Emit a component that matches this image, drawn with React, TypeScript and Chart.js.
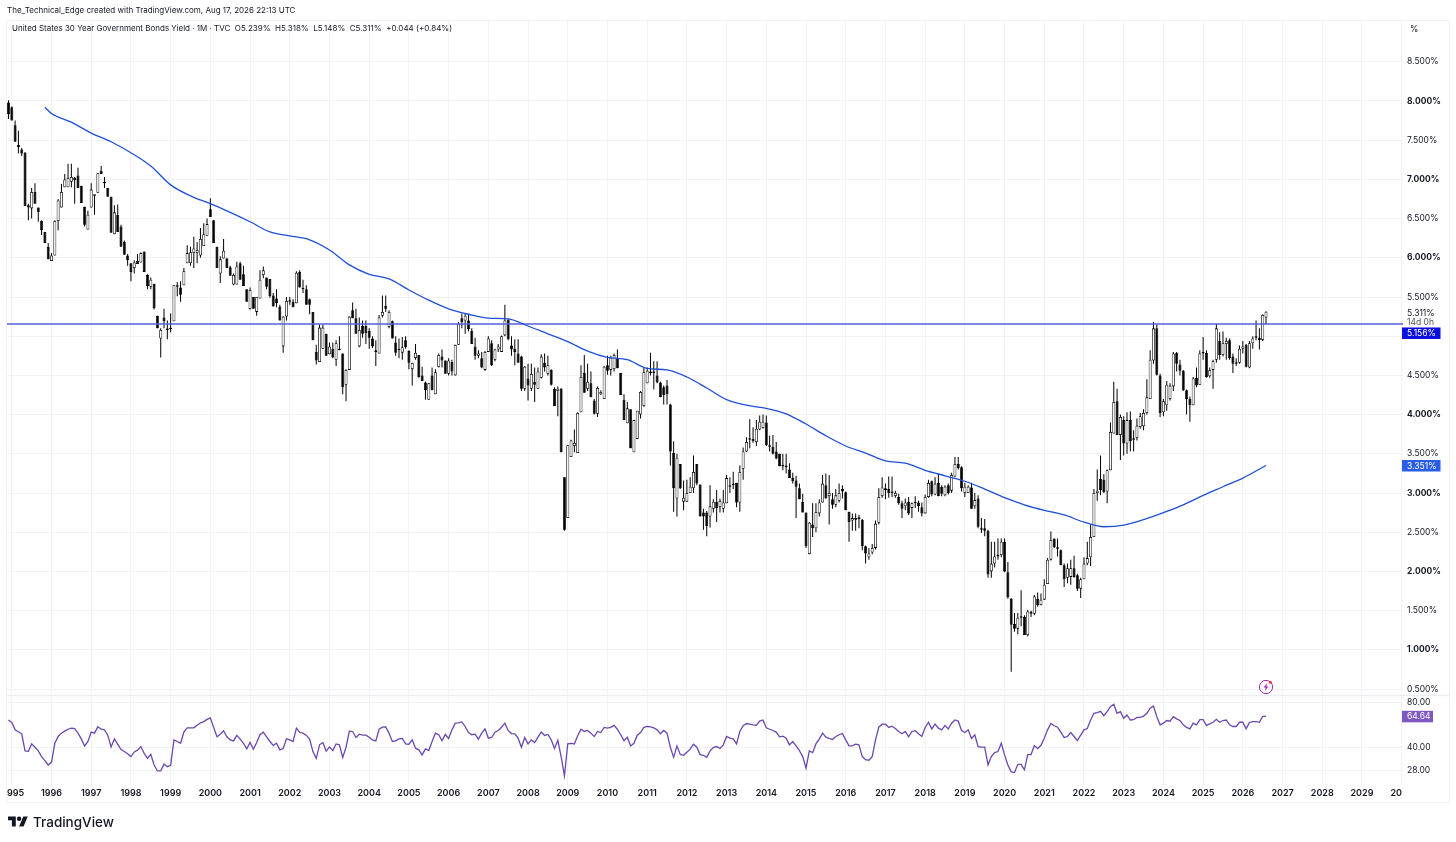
import React, { useEffect, useRef } from "react";
import { Chart, registerables } from "chart.js";

Chart.register(...registerables);

// Months are counted from January 1995 (0). First candle is December 1994.
const firstMonth = -1;

const opens = [7.98,
  7.92,7.69,7.44,7.38,7.34,6.67,6.63,6.84,6.64,6.47,6.33,6.14,
  5.96,6.03,6.47,6.64,6.90,6.90,6.97,7.02,7.05,6.92,6.65,6.36,
  6.64,6.79,6.83,7.11,6.97,6.89,6.78,6.30,6.55,6.40,6.20,6.03,
  5.93,5.87,5.96,5.94,6.08,5.78,5.63,5.67,5.26,4.97,5.24,5.08,
  5.09,5.19,5.65,5.62,5.65,5.93,5.93,6.06,6.06,6.03,6.15,6.28,
  6.62,6.48,6.14,5.80,5.99,5.99,5.88,5.66,5.66,5.93,5.79,5.60,
  5.35,5.50,5.31,5.48,5.78,5.75,5.73,5.52,5.48,5.38,4.87,5.25,
  5.44,5.44,5.42,5.82,5.61,5.60,5.47,5.31,4.80,4.67,4.84,5.03,
  4.77,4.84,4.70,4.82,4.78,4.38,4.57,5.33,5.23,4.87,5.13,5.13,
  5.07,4.97,4.82,4.78,5.26,5.39,5.12,5.19,4.92,4.84,4.79,4.95,
  4.81,4.58,4.72,4.76,4.50,4.41,4.19,4.50,4.26,4.61,4.74,4.69,
  4.52,4.67,4.50,4.89,5.23,5.20,5.20,5.07,4.87,4.75,4.72,4.57,
  4.80,4.91,4.70,4.83,4.80,5.01,5.21,4.88,4.84,4.78,4.74,4.33,
  4.46,4.33,4.42,4.33,4.47,4.66,4.52,4.57,4.33,4.30,4.33,3.20,
  2.68,3.46,3.60,3.51,4.03,4.53,4.33,4.40,4.18,4.01,4.26,4.20,
  4.63,4.57,4.58,4.72,4.53,4.19,3.89,4.07,3.52,3.69,4.00,4.11,
  4.40,4.55,4.53,4.50,4.41,4.35,4.37,4.13,3.51,2.93,3.37,2.89,
  2.89,3.00,3.06,3.37,3.11,2.75,2.75,2.70,2.80,2.89,2.82,2.80,
  2.87,3.10,3.10,3.13,2.88,3.31,3.53,3.70,3.69,3.65,3.81,3.83,
  3.90,3.61,3.59,3.53,3.50,3.36,3.35,3.30,3.19,3.16,3.06,2.89,
  2.75,2.22,2.60,2.55,2.74,2.88,3.10,2.96,2.92,2.85,2.90,3.05,
  3.01,2.76,2.65,2.66,2.67,2.66,2.32,2.18,2.24,2.30,2.62,2.96,
  3.06,3.05,3.00,2.96,2.95,2.87,2.83,2.89,2.81,2.87,2.88,2.82,
  2.74,2.95,3.15,2.98,3.13,3.08,2.97,3.10,3.03,3.21,3.37,3.33,
  3.00,3.00,3.07,2.83,2.93,2.55,2.55,2.52,2.00,2.10,2.19,2.21,
  2.38,1.99,1.65,1.33,1.27,1.41,1.42,1.19,1.49,1.46,1.65,1.57,
  1.64,1.84,2.15,2.42,2.30,2.27,2.08,1.92,1.93,2.04,1.95,1.78,
  1.90,2.10,2.18,2.44,3.00,3.18,3.17,3.02,3.29,3.76,4.17,3.74,
  3.93,3.63,3.93,3.68,3.70,3.84,3.85,4.02,4.20,4.69,5.10,4.50,
  4.03,4.12,4.20,4.36,4.79,4.64,4.56,4.31,4.20,4.12,4.47,4.38,
  4.78,4.79,4.49,4.57,4.70,4.94,4.76,4.90,4.95,4.74,4.65,4.66,
  4.84,4.89,4.60,4.91,4.98,4.98,4.95,5.239];

const highs = [8.01,
  7.93,7.75,7.62,7.40,7.35,6.69,6.89,6.95,6.64,6.48,6.33,6.19,
  6.06,6.48,6.75,6.94,7.07,7.20,7.20,7.03,7.15,6.92,6.65,6.60,
  6.95,6.80,7.08,7.17,7.03,6.89,6.78,6.67,6.68,6.42,6.22,6.05,
  5.93,5.97,6.05,6.07,6.08,5.79,5.75,5.67,5.26,5.10,5.35,5.20,
  5.29,5.65,5.69,5.70,5.87,6.16,6.14,6.27,6.20,6.38,6.44,6.50,
  6.76,6.48,6.14,6.02,6.24,6.00,5.90,5.80,5.95,5.95,5.90,5.60,
  5.62,5.50,5.50,5.84,5.89,5.75,5.73,5.55,5.60,5.40,5.25,5.50,
  5.50,5.47,5.83,5.84,5.72,5.65,5.48,5.31,4.89,5.15,5.15,5.03,
  4.92,4.92,4.95,5.00,4.78,4.58,5.25,5.43,5.35,5.24,5.20,5.20,
  5.10,5.00,4.95,5.27,5.52,5.52,5.33,5.20,5.00,4.97,4.99,5.00,
  4.82,4.66,4.90,4.76,4.61,4.42,4.40,4.60,4.58,4.78,4.83,4.69,
  4.72,4.70,4.89,5.18,5.29,5.29,5.28,5.10,4.98,4.82,4.80,4.81,
  5.00,4.95,4.84,4.90,5.01,5.40,5.22,5.00,4.96,4.96,4.75,4.62,
  4.65,4.65,4.60,4.60,4.77,4.78,4.75,4.58,4.35,4.36,4.34,3.20,
  3.61,3.68,3.81,4.03,4.63,4.76,4.65,4.55,4.20,4.36,4.31,4.62,
  4.75,4.75,4.78,4.83,4.53,4.26,4.16,4.07,3.93,4.05,4.30,4.60,
  4.60,4.79,4.68,4.68,4.42,4.37,4.44,4.14,3.66,3.50,3.37,3.16,
  3.17,3.20,3.48,3.37,3.11,2.80,2.77,3.10,2.92,3.04,2.93,3.04,
  3.23,3.20,3.27,3.13,3.35,3.58,3.71,3.94,3.84,3.93,3.99,4.00,
  3.99,3.73,3.74,3.65,3.50,3.50,3.50,3.38,3.26,3.22,3.12,2.99,
  2.75,2.63,2.87,2.87,2.92,3.23,3.25,3.23,3.00,3.05,3.12,3.10,
  3.02,2.76,2.74,2.74,2.72,2.67,2.33,2.30,2.35,2.65,3.06,3.20,
  3.12,3.21,3.21,3.03,2.99,2.90,2.93,2.95,2.88,2.96,2.90,2.88,
  2.98,3.17,3.16,3.20,3.25,3.10,3.10,3.12,3.26,3.46,3.46,3.34,
  3.13,3.10,3.13,3.00,2.97,2.68,2.67,2.53,2.38,2.38,2.42,2.42,
  2.42,2.12,1.66,1.47,1.47,1.76,1.44,1.51,1.50,1.70,1.73,1.72,
  1.90,2.17,2.51,2.42,2.42,2.28,2.10,2.10,2.15,2.20,1.97,1.92,
  2.18,2.38,2.60,3.05,3.30,3.48,3.24,3.30,3.90,4.42,4.33,4.00,
  3.98,4.03,4.04,3.80,3.95,4.02,4.07,4.45,4.82,5.18,5.15,4.52,
  4.20,4.43,4.40,4.80,4.80,4.70,4.57,4.32,4.23,4.48,4.60,4.82,
  4.99,4.82,4.60,4.70,5.16,5.05,5.06,4.98,4.97,4.78,4.72,4.88,
  4.94,4.90,4.94,5.00,5.20,5.10,5.28,5.318];

const lows = [7.77,
  7.75,7.48,7.33,7.30,6.66,6.48,6.50,6.69,6.46,6.29,6.19,5.98,
  5.96,6.03,6.35,6.64,6.90,6.90,6.90,6.69,6.89,6.70,6.40,6.36,
  6.64,6.55,6.83,7.07,6.89,6.78,6.32,6.30,6.33,6.14,6.04,5.90,
  5.70,5.80,5.92,5.94,5.82,5.60,5.60,5.34,5.10,4.73,5.10,4.96,
  5.05,5.19,5.51,5.44,5.65,5.93,5.90,5.87,5.93,6.00,6.15,6.28,
  6.52,6.19,5.87,5.68,5.99,5.87,5.77,5.65,5.66,5.72,5.64,5.44,
  5.34,5.35,5.26,5.48,5.74,5.60,5.49,5.38,5.37,5.20,4.79,5.20,
  5.40,5.37,5.42,5.62,5.55,5.40,5.28,4.95,4.64,4.67,4.84,4.75,
  4.77,4.72,4.62,4.82,4.26,4.17,4.57,5.23,5.03,4.86,4.98,4.90,
  4.84,4.85,4.62,4.78,5.24,5.31,5.10,4.97,4.75,4.72,4.70,4.84,
  4.58,4.37,4.70,4.47,4.43,4.19,4.19,4.31,4.26,4.60,4.60,4.52,
  4.50,4.50,4.50,4.89,5.10,5.03,5.06,4.90,4.70,4.72,4.59,4.56,
  4.80,4.62,4.68,4.80,4.80,5.00,4.95,4.75,4.63,4.66,4.30,4.30,
  4.18,4.30,4.16,4.33,4.46,4.55,4.50,4.37,4.11,3.98,3.52,2.52,
  2.68,3.46,3.52,3.51,4.03,4.28,4.30,4.22,4.00,3.97,4.25,4.20,
  4.51,4.50,4.55,4.59,4.25,3.93,3.89,3.57,3.52,3.69,3.95,4.10,
  4.40,4.50,4.32,4.40,4.22,4.13,4.13,3.35,2.76,2.70,3.05,2.78,
  2.89,3.00,3.00,3.10,2.70,2.53,2.45,2.56,2.75,2.63,2.75,2.75,
  2.87,3.00,3.05,2.82,2.76,3.17,3.52,3.57,3.64,3.60,3.80,3.82,
  3.60,3.53,3.49,3.43,3.34,3.29,3.25,3.19,3.12,2.68,2.92,2.75,
  2.30,2.22,2.44,2.50,2.70,2.88,2.93,2.60,2.80,2.82,2.88,2.93,
  2.78,2.38,2.52,2.52,2.55,2.27,2.10,2.15,2.22,2.28,2.60,2.94,
  2.92,2.94,2.95,2.94,2.85,2.68,2.78,2.72,2.68,2.81,2.76,2.70,
  2.74,2.94,2.96,2.97,2.96,2.96,2.96,2.98,3.00,3.20,3.30,3.02,
  2.95,3.00,2.80,2.80,2.55,2.49,2.45,1.92,1.92,2.05,2.15,2.18,
  1.99,1.65,0.72,1.23,1.20,1.30,1.19,1.17,1.42,1.44,1.55,1.57,
  1.64,1.84,2.14,2.30,2.19,2.08,1.80,1.85,1.83,1.92,1.75,1.66,
  1.90,2.08,2.07,2.44,2.90,2.97,3.00,2.87,3.29,3.76,3.74,3.42,
  3.48,3.50,3.53,3.53,3.67,3.82,3.80,4.00,4.20,4.65,4.50,3.97,
  3.98,4.05,4.18,4.30,4.55,4.50,4.30,4.00,3.91,4.12,4.35,4.38,
  4.70,4.47,4.47,4.33,4.66,4.70,4.74,4.70,4.70,4.53,4.62,4.65,
  4.78,4.60,4.59,4.84,4.95,4.83,4.94,5.148];

const closes = [7.83,
  7.75,7.48,7.41,7.33,6.66,6.64,6.84,6.69,6.58,6.35,6.19,5.98,
  6.03,6.47,6.73,6.84,7.00,7.02,7.03,6.99,6.89,6.70,6.42,6.55,
  6.87,6.80,7.08,7.07,6.95,6.78,6.32,6.58,6.33,6.14,6.04,5.97,
  5.82,5.94,5.92,6.06,5.82,5.64,5.72,5.36,5.10,5.08,5.19,5.09,
  5.10,5.65,5.63,5.53,5.83,6.06,6.07,6.12,6.10,6.24,6.30,6.43,
  6.52,6.19,5.87,5.98,6.09,5.87,5.77,5.78,5.89,5.72,5.64,5.44,
  5.59,5.35,5.50,5.72,5.84,5.63,5.51,5.38,5.42,5.20,5.25,5.45,
  5.46,5.37,5.81,5.62,5.60,5.40,5.40,4.95,4.69,5.11,5.11,4.75,
  4.87,4.73,4.91,4.83,4.35,4.57,5.25,5.23,5.03,5.08,5.03,5.04,
  4.98,4.87,4.80,5.24,5.31,5.35,5.31,4.97,4.79,4.82,4.86,4.86,
  4.66,4.66,4.79,4.48,4.43,4.31,4.40,4.31,4.54,4.76,4.69,4.52,
  4.69,4.55,4.89,5.16,5.18,5.26,5.09,4.90,4.75,4.78,4.60,4.80,
  4.97,4.63,4.83,4.87,5.00,5.20,4.96,4.83,4.80,4.66,4.33,4.61,
  4.37,4.52,4.38,4.55,4.74,4.60,4.63,4.38,4.11,4.33,3.52,2.53,
  3.61,3.67,3.64,4.02,4.48,4.28,4.42,4.22,4.01,4.34,4.29,4.61,
  4.56,4.73,4.76,4.59,4.25,3.93,4.08,3.57,3.93,4.05,4.29,4.54,
  4.56,4.53,4.54,4.41,4.22,4.25,4.26,3.53,3.06,3.45,3.06,2.94,
  3.00,3.08,3.27,3.12,2.70,2.70,2.58,2.83,2.89,2.81,2.90,2.88,
  3.19,3.08,3.12,2.88,3.27,3.53,3.65,3.68,3.66,3.82,3.91,3.91,
  3.61,3.59,3.50,3.44,3.34,3.34,3.33,3.19,3.15,3.08,2.92,2.75,
  2.32,2.62,2.55,2.76,2.88,3.12,2.93,3.00,2.85,2.97,3.00,3.02,
  2.78,2.63,2.68,2.68,2.69,2.32,2.23,2.23,2.30,2.61,2.95,3.07,
  3.04,3.00,3.02,3.00,2.87,2.80,2.88,2.74,2.87,2.88,2.83,2.74,
  2.95,3.13,2.98,3.12,2.96,2.99,3.08,3.00,3.23,3.37,3.32,3.06,
  3.08,3.08,2.80,2.91,2.57,2.55,2.52,1.96,2.10,2.19,2.20,2.38,
  2.00,1.67,1.32,1.27,1.41,1.42,1.19,1.49,1.46,1.68,1.57,1.64,
  1.83,2.15,2.40,2.31,2.29,2.08,1.90,2.04,2.04,1.93,1.78,1.90,
  2.10,2.17,2.44,3.00,3.03,3.04,3.01,3.29,3.78,4.16,3.74,3.97,
  3.63,3.93,3.66,3.69,3.86,3.98,4.02,4.22,4.70,5.10,4.51,4.02,
  4.17,4.38,4.37,4.78,4.65,4.56,4.31,4.20,4.12,4.46,4.37,4.78,
  4.79,4.48,4.57,4.68,5.10,4.76,4.91,4.94,4.72,4.65,4.66,4.84,
  4.87,4.61,4.91,4.97,4.99,4.95,5.27,5.311];

const maMonths = [10,12,18,24,30,36,42,48,54,60,66,72,78,84,90,96,102,108,114,120,126,132,138,144,150,156,162,168,174,180,186,192,198,204,210,216,222,228,234,240,246,252,258,264,270,276,282,288,294,300,306,312,318,324,330,336,342,348,354,360,366,372,379];
const maValues = [7.92,7.84,7.73,7.59,7.48,7.34,7.17,6.93,6.79,6.69,6.58,6.46,6.33,6.28,6.23,6.10,5.91,5.79,5.73,5.59,5.46,5.35,5.28,5.23,5.22,5.13,5.03,4.93,4.81,4.73,4.70,4.59,4.57,4.48,4.34,4.19,4.12,4.08,4.01,3.88,3.73,3.60,3.51,3.41,3.38,3.29,3.22,3.15,3.05,2.94,2.85,2.78,2.72,2.63,2.57,2.59,2.66,2.75,2.85,2.97,3.08,3.19,3.351];

const rsiValues = [61.1,
  58.8,52.5,51,49.4,38,37.8,42.3,40.2,38,34.8,32.7,30.6,
  32,42.7,47.4,49.9,51.5,53,53.9,53.6,49.9,45.7,41,43.9,
  50.7,49.9,55,53,52.5,48.4,40.4,45.7,42.1,38.8,37.6,36.4,
  34.8,37.4,38.4,40.6,36.6,33.9,36,30.6,27.9,27.9,31,29.8,
  30.4,45,43.9,42.7,50.7,54.2,54.2,54.2,56.4,58.5,59.6,61.7,
  63.1,54.5,47.2,49.1,51.8,47.2,45,44.3,48.2,45.5,42.7,39.2,
  43.2,39,43.2,48.7,50.7,47.2,43.9,41.4,42.7,38.6,39.4,45.7,
  45,43.9,53.9,50.4,49.9,48.2,45.5,37.6,33.9,41.7,43.2,37.8,
  40.4,38.2,42.3,41.7,34.4,40.2,51.5,51.2,46.7,49.1,48.4,48.4,
  46.9,45,44.3,53,54.7,55,49.9,43.9,44.3,45.7,46,42.3,
  42.1,45,39.6,38.6,35.7,39.2,38.2,43.9,49.9,48.7,44.5,48.9,
  46,52.5,58.2,58.5,59.3,55.3,50.4,48.7,49.1,45.5,49.9,53.3,
  46.2,46.7,50.7,52,54.7,58.2,52,49.6,49.4,46.2,40.2,46.7,
  42.3,45,43.2,46.9,50.7,48.2,48.9,45,39.4,44.7,34.8,25.9,
  42.3,42.7,42.3,47.9,53,51.2,52,49.9,47.4,51.2,50.4,54.5,
  53.9,54.5,56.2,53,48.7,44.5,46.9,41,42.7,48.4,50.4,54.5,
  55.3,55,54.2,52.5,49.4,52,49.9,40.2,34.4,41,36,35.5,
  37.2,39,42.1,40.2,35.9,35.5,34.4,38,40,40.6,39.4,41.7,
  47.4,46.2,45.7,42.3,51.2,55.9,57.9,57.3,56.7,56.4,60.1,61.1,
  54.2,53,52,50.7,47.2,47.7,46.2,41.7,43.9,41,38.2,34.8,
  29.1,38,37,42.3,45.5,49.9,46.9,46,45.2,47.4,48.7,49.6,
  45,41,41,42.1,41.7,34.8,33.2,32.9,34.8,45,54.7,57.3,
  57.3,54.5,55.6,53.6,51.2,49.4,51.2,47.2,51.2,51.8,49.4,47.4,
  54.5,59,53.3,57.3,53.9,52.5,56.2,53.3,58.2,61.1,60.1,52,
  50.4,52.5,46,48.7,40.6,40.2,40.2,30.6,34.8,37,37.6,42.7,
  35.7,30.6,27.5,27.2,30.9,30.9,28.4,35.9,35.9,41.2,39.4,41.4,
  46.2,52.5,57.9,55.9,54.7,50.7,46.7,47.4,50.4,47.4,44.5,48.4,
  52.5,53.6,61.1,67.7,68.4,69.8,65.3,69.5,75,77.8,67.7,69.5,
  62.7,66,61.1,61.4,63.6,63.6,64.9,67.7,73.2,75.8,64.3,56.7,
  58.2,60.6,60,64.3,62.2,60.6,56.7,54.5,53.3,58.2,56.7,61.4,
  61.4,56.2,57.5,59,61.8,59,60.6,61.1,56.7,55.3,55.3,59,
  59,53.3,58.8,59.6,59.6,59,64.6,64.64];

const priceTicks = [8.5,8,7.5,7,6.5,6,5.5,5,4.5,4,3.5,3,2.5,2,1.5,1,0.5];
const rsiTicks = [80,40,28];
const yearTickMonths = [0,12,24,36,48,60,72,84,96,108,120,132,144,156,168,180,192,204,216,228,240,252,264,276,288,300,312,324,336,348,360,372,384,396,408,420];
const resistanceLevel = 5.156;
const lastMa = 3.351;
const lastRsi = 64.64;
const lastClose = 5.311;

const FONT = "Inter, 'Noto Sans', sans-serif";
const INK = "#131722";
const GRID = "#f1f2f5";
const FRAME = "#f1f2f5";

const months = opens.map((_, i) => i + firstMonth);

function badge(ctx: CanvasRenderingContext2D, text: string, y: number, w: number, fill: string) {
  ctx.fillStyle = fill;
  ctx.fillRect(1402, y - 5.5, w, 11.5);
  ctx.fillStyle = "#ffffff";
  ctx.textAlign = "left";
  ctx.textBaseline = "middle";
  ctx.font = `8.5px ${FONT}`;
  ctx.fillText(text, 1407, y + 0.5);
}

const framePlugin = {
  id: "frame",
  afterLayout(chart: any) {
    // the RSI axis overlaps the price axis: widen its label clip box
    const r = chart.scales.rsi;
    r.right = r.left + 53;
  },
  beforeDraw(chart: any) {
    const c: CanvasRenderingContext2D = chart.ctx;
    c.save();
    c.strokeStyle = FRAME;
    c.lineWidth = 1;
    c.beginPath();
    c.moveTo(6.5, 20.5); c.lineTo(1449.5, 20.5);
    c.moveTo(6.5, 20.5); c.lineTo(6.5, 802.5);
    c.moveTo(1449.5, 20.5); c.lineTo(1449.5, 802.5);
    c.moveTo(6.5, 802.5); c.lineTo(1449.5, 802.5);
    c.stroke();
    c.restore();
  },
  afterDraw(chart: any) {
    const c: CanvasRenderingContext2D = chart.ctx;
    const { y, rsi } = chart.scales;
    c.save();
    c.strokeStyle = "#eceef1";
    c.lineWidth = 1.5;
    c.beginPath();
    c.moveTo(7, 695.5); c.lineTo(1449, 695.5);
    c.stroke();

    // clipped first and last year labels
    c.fillStyle = INK;
    c.font = `600 9px ${FONT}`;
    c.textBaseline = "middle";
    c.textAlign = "left";
    c.fillText("995", 7, 793.5);
    c.fillText("20", 1390.5, 793.5);

    c.font = `8.5px ${FONT}`;
    c.fillStyle = INK;
    c.fillText("%", 1410, 29);
    c.fillText(lastClose.toFixed(3) + "%", 1407, y.getPixelForValue(lastClose) + 1.5);
    c.fillStyle = "#50535e";
    c.fillText("14d 0h", 1407, y.getPixelForValue(lastClose) + 10.5);

    badge(c, resistanceLevel.toFixed(3) + "%", y.getPixelForValue(resistanceLevel) + 9, 38.5, "#0b0fe0");
    badge(c, lastMa.toFixed(3) + "%", y.getPixelForValue(lastMa), 38.5, "#2a5ee8");
    badge(c, lastRsi.toFixed(2), rsi.getPixelForValue(lastRsi), 31, "#7e57c2");
    c.restore();
  },
};

export default function App() {
  const ref = useRef<HTMLCanvasElement>(null);
  useEffect(() => {
    const chart = new Chart(ref.current!, {
      type: "bar",
      plugins: [framePlugin],
      data: {
        datasets: [
          {
            type: "line",
            label: "RSI",
            data: months.map((m, i) => ({ x: m, y: rsiValues[i] })),
            yAxisID: "rsi",
            borderColor: "#6a48b0",
            borderWidth: 1.3,
            pointRadius: 0,
            tension: 0,
            order: 0,
          },
          {
            type: "line",
            label: "Moving average",
            data: maMonths.map((m, i) => ({ x: m, y: maValues[i] })),
            yAxisID: "y",
            borderColor: "#1f4fd8",
            borderWidth: 1.3,
            pointRadius: 0,
            cubicInterpolationMode: "monotone",
            order: 0,
          },
          {
            type: "line",
            label: "Level",
            data: [{ x: -1.45, y: resistanceLevel }, { x: 420.4, y: resistanceLevel }],
            yAxisID: "y",
            borderColor: "#5560d8",
            borderWidth: 1.3,
            pointRadius: 0,
            order: 1,
          },
          {
            label: "Body",
            data: months.map((m, i) => ({ x: m, y: [opens[i], closes[i]] })),
            yAxisID: "y",
            grouped: false,
            barThickness: 3,
            minBarLength: 1.5,
            borderWidth: 0.8,
            borderSkipped: false,
            inflateAmount: 0,
            borderColor: "#000000",
            backgroundColor: months.map((_, i) => (closes[i] >= opens[i] ? "#ffffff" : "#000000")),
            order: 2,
          },
          {
            label: "Wick",
            data: months.map((m, i) => ({ x: m, y: [lows[i], highs[i]] })),
            yAxisID: "y",
            grouped: false,
            barThickness: 1,
            borderWidth: 0,
            inflateAmount: 0,
            backgroundColor: "#000000",
            order: 3,
          },
        ],
      } as any,
      options: {
        responsive: false,
        animation: false,
        events: [],
        layout: { padding: { top: 20, left: 7, right: 0, bottom: 40 } },
        plugins: { legend: { display: false }, title: { display: false }, tooltip: { enabled: false } },
        scales: {
          x: {
            type: "linear",
            offset: false,
            min: -1.45,
            max: 420.4,
            afterBuildTicks: (s: any) => { s.ticks = yearTickMonths.map((value) => ({ value })); },
            afterFit: (s: any) => { s.paddingLeft = 0; s.paddingRight = 0; s.height = 17; },
            border: { display: false },
            grid: { color: GRID, offset: false, drawTicks: false, lineWidth: 1 },
            ticks: {
              autoSkip: false,
              maxRotation: 0,
              padding: 3,
              color: INK,
              font: { family: FONT, size: 9, weight: "600" },
              callback: (v: any) => {
                if (v === 0 || v === 420) return "";
                return String(1995 + Math.round(v / 12));
              },
            },
          },
          y: {
            type: "linear",
            position: "right",
            weight: 2,
            min: -0.724,
            max: 9.033,
            afterBuildTicks: (s: any) => { s.ticks = priceTicks.map((value) => ({ value })); },
            afterFit: (s: any) => { s.width = 53; s.paddingTop = 0; s.paddingBottom = 0; },
            border: { display: false },
            grid: { color: GRID, drawTicks: false },
            ticks: {
              autoSkip: false,
              padding: 4,
              color: INK,
              font: (ctx: any) => ({
                family: FONT,
                size: 8.5,
                weight: Number.isInteger(ctx.tick?.value) ? "700" : "400",
              }),
              callback: (v: any) => Number(v).toFixed(3) + "%",
            },
          },
          rsi: {
            type: "logarithmic",
            position: "right",
            weight: 1,
            min: 22.48,
            max: 2.9e6,
            afterBuildTicks: (s: any) => { s.ticks = rsiTicks.map((value) => ({ value })); },
            afterFit: (s: any) => { s.width = 0; s.paddingTop = 0; s.paddingBottom = 0; },
            border: { display: false },
            grid: { color: GRID, drawTicks: false },
            ticks: {
              autoSkip: false,
              padding: 4,
              color: INK,
              font: { family: FONT, size: 8.5 },
              callback: (v: any) => Number(v).toFixed(2),
            },
          },
        },
      } as any,
    });
    return () => chart.destroy();
  }, []);

  const abs = (left: number, top: number, extra: React.CSSProperties = {}): React.CSSProperties => ({
    position: "absolute",
    left,
    top,
    fontFamily: FONT,
    color: INK,
    whiteSpace: "pre",
    lineHeight: 1,
    ...extra,
  });

  return (
    <div style={{ position: "fixed", inset: 0, background: "#fff", overflow: "hidden" }}>
      <canvas ref={ref} width={1456} height={842} style={{ display: "block" }} />
      <div style={abs(7, 5.5, { fontSize: 8 })}>
        The_Technical_Edge created with TradingView.com, Aug 17, 2026 22:13 UTC
      </div>
      <div style={abs(12, 24, { fontSize: 8 })}>
        {"United States 30 Year Government Bonds Yield · 1M · TVC  O5.239%  H5.318%  L5.148%  C5.311%  +0.044 (+0.84%)"}
      </div>
      <svg style={{ position: "absolute", left: 8, top: 814 }} width="20" height="16" viewBox="0 0 36 28">
        <path d="M14 22H7V11H0V4h14v18zM28 22h-8l7.5-18h8L28 22z" fill="#131722" />
        <circle cx="20" cy="8" r="4" fill="#131722" />
      </svg>
      <div style={abs(33, 815.5, { fontSize: 13.5, fontWeight: 500 })}>TradingView</div>
      <svg style={{ position: "absolute", left: 1258, top: 679 }} width="16" height="16" viewBox="0 0 16 16">
        <circle cx="8" cy="8" r="6.6" fill="none" stroke="#9c27b0" strokeWidth="1" />
        <path d="M9.2 4 5.6 8.6h2.2L6.8 12l3.6-4.6H8.2z" fill="#9c27b0" />
        <circle cx="12.4" cy="3.2" r="1.5" fill="#f23645" />
      </svg>
    </div>
  );
}
